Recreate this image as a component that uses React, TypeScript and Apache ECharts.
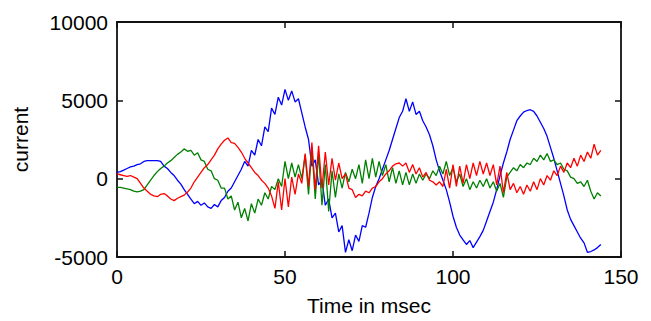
import React, { useEffect, useRef } from "react";
import * as echarts from "echarts";

// sample times: 0..144 msec, one sample per msec
const T_START = 0;
const T_STEP = 1;

const blueValues = [
  400, 450, 550, 650, 750, 800, 900, 950, 1100, 1150,
  1150, 1150, 1150, 1100, 800, 650, 400, 200, -100, -350,
  -700, -1000, -1300, -1600, -1450, -1700, -1550, -1800, -1900, -1650,
  -1800, -1400, -1200, -800, -600, -200, 200, 600, 1100, 800,
  1800, 1500, 2500, 2100, 3300, 3000, 4500, 4100, 5200, 4700,
  5700, 5000, 5600, 4900, 5100, 4200, 3300, 2500, 800, 1200,
  -400, -100, -1700, -1300, -2500, -2200, -3400, -3000, -4700, -3900,
  -4600, -3600, -4000, -3000, -3100, -2200, -1200, -500, 0, 600,
  1200, 1800, 2500, 3200, 3900, 4300, 5100, 4300, 4900, 4100,
  4300, 3700, 3300, 2800, 2100, 1200, 500, -100, -700, -1500,
  -2400, -3100, -3600, -3900, -4200, -3950, -4400, -4050, -3700, -3300,
  -2700, -2100, -1500, -700, 200, 1000, 1700, 2500, 3100, 3700,
  4000, 4250, 4350, 4400, 4300, 4000, 3600, 3200, 2700, 2000,
  1300, 500, -300, -1100, -2000, -2600, -3000, -3400, -3800, -4100,
  -4700, -4650, -4550, -4400, -4200,
];

const greenValues = [
  -550, -550, -600, -650, -700, -800, -850, -800, -700, -400,
  -100, 200, 450, 650, 800, 1000, 1150, 1350, 1550, 1700,
  1900, 1750, 1800, 1500, 1650, 1200, 1100, 600, 500, 0,
  -100, -600, -600, -1300, -1100, -2000, -1500, -2500, -1900, -2700,
  -1600, -2200, -1300, -1700, -900, -1300, -500, -700, 0, -500,
  1100, 0, 1000, 100, 900, 0, 1500, -1000, 2000, -1300,
  1600, -1700, 900, -2100, 500, -1200, 300, -600, 400, -200,
  600, 0, 900, -300, 1200, 0, 1300, 100, 1100, 200,
  900, -200, 700, -300, 500, -400, 400, -400, 300, -300,
  300, -100, 300, 0, 500, 200, 800, 300, 1100, 200,
  700, -200, 300, -500, 0, -700, -200, -600, -100, -500,
  0, -600, -200, -800, -300, -1200, 100, 400, 700, 500,
  900, 700, 1000, 900, 1300, 1100, 1500, 1200, 1600, 1100,
  1200, 900, 1000, 600, 500, 100, 0, -300, -200, -500,
  -100, -800, -1300, -900, -1100,
];

const redValues = [
  300, 250, 200, 150, 200, 100, 0, -300, -600, -800,
  -1000, -1100, -1150, -1000, -950, -1100, -1300, -1400, -1250, -1150,
  -1050, -850, -600, -200, 100, 400, 700, 900, 1200, 1500,
  1900, 2200, 2450, 2600, 2300, 2250, 2000, 1700, 1300, 1000,
  700, 400, 200, -100, -300, -600, -1100, -1900, -200, -2000,
  0, -1800, 100, -1000, 300, -300, 1600, -500, 2300, -700,
  2100, -600, 1700, -400, 1300, -100, 1000, 0, 300, -600,
  -700, -1200, -1000, -1100, -800, -900, -600, -500, -200, 0,
  300, 500, 800, 950, 1000, 800, 1000, 400, 900, 300,
  700, 100, 400, -100, -200, -400, -200, -500, 600, -600,
  900, -500, 800, -300, 900, 0, 1000, 200, 1100, 300,
  1000, 200, 900, -400, 800, -900, 400, -700, -300, -900,
  -500, -1000, -400, -800, -200, -700, 0, -400, 200, -100,
  500, 200, 800, 400, 1000, 700, 1300, 800, 1500, 1100,
  1700, 1300, 2200, 1500, 1800,
];

const xTicks = { min: 0, max: 150, interval: 50 };
const yTicks = { min: -5000, max: 10000, interval: 5000 };

const toPairs = (vals: number[]) =>
  vals.map((v, i) => [T_START + i * T_STEP, v]);

export default function App() {
  const ref = useRef<HTMLDivElement>(null);
  useEffect(() => {
    if (!ref.current) return;
    const chart = echarts.init(ref.current, null, { renderer: "svg" });
    const font = "'Liberation Sans', Arial, sans-serif";
    const axisLine = { show: true, onZero: false, lineStyle: { color: "#111111", width: 1.8 } };
    const tick = { show: true, inside: true, length: 6, lineStyle: { color: "#111111", width: 1.5 } };
    const label = { fontFamily: font, fontSize: 21, color: "#000000" };
    chart.setOption({
      animation: false,
      backgroundColor: "#ffffff",
      grid: { left: 117, top: 22, width: 504, height: 235, show: false },
      xAxis: [
        {
          type: "value",
          position: "bottom",
          ...xTicks,
          axisLine,
          axisTick: tick,
          splitLine: { show: false },
          axisLabel: { ...label, margin: 9, formatter: (v: number) => String(v) },
          name: "Time in msec",
          nameLocation: "middle",
          nameGap: 38,
          nameTextStyle: { ...label },
        },
        {
          type: "value",
          position: "top",
          ...xTicks,
          axisLine,
          axisTick: tick,
          splitLine: { show: false },
          axisLabel: { show: false },
        },
      ],
      yAxis: [
        {
          type: "value",
          position: "left",
          ...yTicks,
          axisLine,
          axisTick: tick,
          splitLine: { show: false },
          axisLabel: { ...label, margin: 9, formatter: (v: number) => String(v) },
          name: "current",
          nameLocation: "middle",
          nameGap: 86,
          nameTextStyle: { ...label },
        },
        {
          type: "value",
          position: "right",
          ...yTicks,
          axisLine,
          axisTick: tick,
          splitLine: { show: false },
          axisLabel: { show: false },
        },
      ],
      series: [
        { type: "line", data: toPairs(blueValues), showSymbol: false, lineStyle: { color: "#0000ff", width: 1.3 }, itemStyle: { color: "#0000ff" } },
        { type: "line", data: toPairs(greenValues), showSymbol: false, lineStyle: { color: "#008000", width: 1.3 }, itemStyle: { color: "#008000" } },
        { type: "line", data: toPairs(redValues), showSymbol: false, lineStyle: { color: "#ff0000", width: 1.3 }, itemStyle: { color: "#ff0000" } },
      ],
    });
    return () => chart.dispose();
  }, []);
  return (
    <div
      ref={ref}
      style={{ position: "fixed", left: 0, top: 0, width: 651, height: 321, background: "#fff" }}
    />
  );
}
